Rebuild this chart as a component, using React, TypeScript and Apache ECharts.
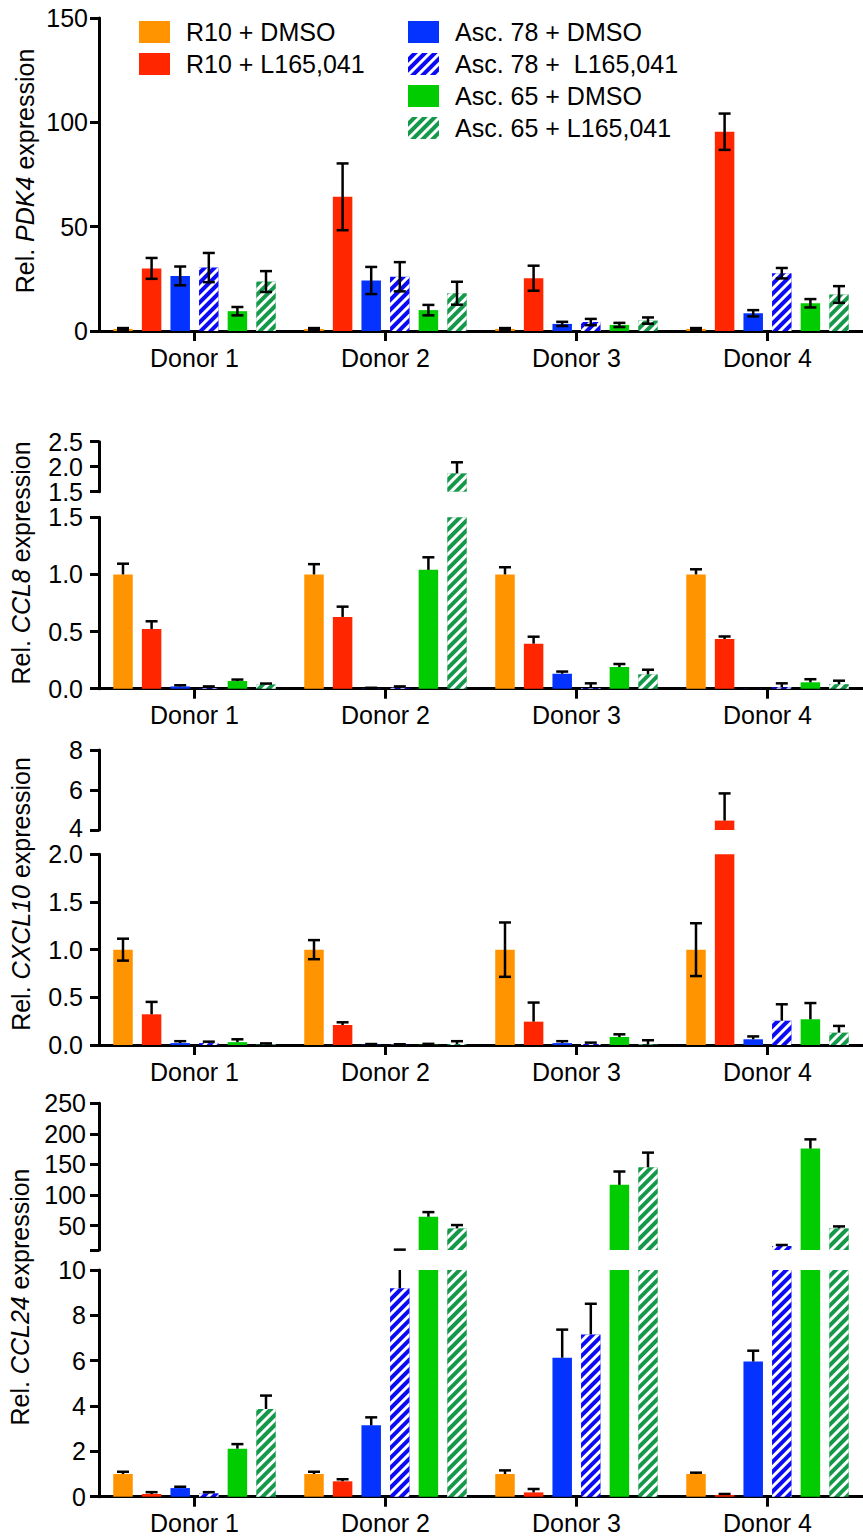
import React, { useEffect, useRef } from 'react';
import * as echarts from 'echarts';

// ---------- data ----------
const donors = ['Donor 1', 'Donor 2', 'Donor 3', 'Donor 4'];
const groupNames = [
  'R10 + DMSO',
  'R10 + L165,041',
  'Asc. 78 + DMSO',
  'Asc. 78 +  L165,041',
  'Asc. 65 + DMSO',
  'Asc. 65 + L165,041',
];
const groupColors = ['#FF9300', '#FF2600', '#0433FF', '#0A0AF5', '#00CC00', '#14994A'];
const groupHatched = [false, false, false, true, false, true];

// PDK4 (mean per group, per donor) and SEM
const pdk4Mean = [
  [1, 1, 1, 1],
  [30, 64.3, 25.3, 95.5],
  [26.4, 24.2, 3.4, 8.5],
  [30.4, 26, 4.3, 27.7],
  [9.5, 10, 2.9, 13.3],
  [23.7, 18.1, 5, 17.5],
];
const pdk4Err = [
  [0.4, 0.4, 0.4, 0.4],
  [5, 16, 6, 8.7],
  [4.5, 6.5, 1, 1.5],
  [7, 7, 1.5, 2.5],
  [2, 2.5, 1, 2],
  [5, 5.5, 1.5, 4],
];

// CCL8
const ccl8Mean = [
  [1, 1, 1, 1],
  [0.523, 0.628, 0.394, 0.435],
  [0.02, 0.003, 0.131, 0.002],
  [0.005, 0.008, 0.005, 0.012],
  [0.067, 1.04, 0.19, 0.056],
  [0.038, 1.868, 0.126, 0.04],
];
const ccl8Err = [
  [0.094, 0.09, 0.063, 0.045],
  [0.067, 0.09, 0.061, 0.022],
  [0.01, 0.005, 0.019, 0.001],
  [0.015, 0.012, 0.042, 0.035],
  [0.013, 0.11, 0.026, 0.027],
  [0.007, 0.22, 0.04, 0.03],
];

// CXCL10
const cxcl10Mean = [
  [1, 1, 1, 1],
  [0.322, 0.21, 0.245, 4.47],
  [0.02, 0.005, 0.02, 0.06],
  [0.02, 0.003, 0.01, 0.255],
  [0.03, 0.004, 0.084, 0.27],
  [0.005, 0.01, 0.005, 0.13],
];
const cxcl10Err = [
  [0.115, 0.1, 0.285, 0.277],
  [0.13, 0.028, 0.2, 1.36],
  [0.02, 0.005, 0.02, 0.03],
  [0.015, 0.005, 0.015, 0.172],
  [0.03, 0.008, 0.028, 0.17],
  [0.012, 0.03, 0.045, 0.07],
];

// CCL24
const ccl24Mean = [
  [1, 1, 1, 1],
  [0.12, 0.68, 0.19, 0.08],
  [0.38, 3.15, 6.13, 5.96],
  [0.15, 9.2, 7.16, 16.5],
  [2.12, 64.4, 116.6, 176],
  [3.87, 45.4, 145.3, 45.4],
];
const ccl24Err = [
  [0.1, 0.1, 0.16, 0.06],
  [0.08, 0.09, 0.15, 0.04],
  [0.06, 0.35, 1.24, 0.48],
  [0.05, 1.4, 1.35, 1.7],
  [0.2, 7.6, 21.8, 15],
  [0.59, 5.4, 24, 3.2],
];

const pdk4Ticks = [0, 50, 100, 150];
const ccl24UpperLabels = [50, 100, 150, 200, 250];
const ccl24UpperTicks = [10, 50, 100, 150, 200, 250];

// ---------- layout ----------
const FONT = '"Liberation Sans", Arial, Helvetica, sans-serif';
const FS = 25;
const BW = 19.5;
const GAP = 9.1;
const STEP = BW + GAP;
const CAP = 12;
const LEFT = 99;
const WIDTH = 764;

type Seg = {
  top: number;
  height: number;
  min: number;
  max: number;
  interval?: number;
  dec: number;
  base: boolean;
  margin: number;
  lift?: number;
  labels?: number[];
  ticks?: number[];
};

type Panel = {
  gene: string;
  nameX: number;
  nameY: number;
  mean: number[][];
  err: number[][];
  both: boolean[];
  segs: Seg[];
};

const panels: Panel[] = [
  {
    gene: 'PDK4',
    nameX: 25,
    nameY: 171,
    mean: pdk4Mean,
    err: pdk4Err,
    both: [true, true, true, true, true, true],
    segs: [{ top: 18, height: 313, min: pdk4Ticks[0], max: pdk4Ticks[3], interval: 50, dec: 0, base: true, margin: 11 }],
  },
  {
    gene: 'CCL8',
    nameX: 21,
    nameY: 563,
    mean: ccl8Mean,
    err: ccl8Err,
    both: [false, false, false, false, false, false],
    segs: [
      { top: 441.7, height: 50, min: 1.5, max: 2.5, interval: 0.5, dec: 1, base: false, margin: 16 },
      { top: 517.3, height: 171.4, min: 0, max: 1.5, interval: 0.5, dec: 1, base: true, margin: 16 },
    ],
  },
  {
    gene: 'CXCL10',
    nameX: 21,
    nameY: 894,
    mean: cxcl10Mean,
    err: cxcl10Err,
    both: [true, false, false, false, false, false],
    segs: [
      { top: 750, height: 80, min: 4, max: 8, interval: 2, dec: 0, base: false, margin: 16, lift: 4 },
      { top: 854.3, height: 190.7, min: 0, max: 2, interval: 0.5, dec: 1, base: true, margin: 16 },
    ],
  },
  {
    gene: 'CCL24',
    nameX: 20,
    nameY: 1297,
    mean: ccl24Mean,
    err: ccl24Err,
    both: [false, false, false, false, false, false],
    segs: [
      { top: 1103.3, height: 146.7, min: 10, max: 250, dec: 0, base: false, margin: 13, labels: ccl24UpperLabels, ticks: ccl24UpperTicks },
      { top: 1270, height: 226.7, min: 0, max: 10, interval: 2, dec: 0, base: true, margin: 13 },
    ],
  },
];

function decalFor(i: number) {
  if (!groupHatched[i]) return undefined;
  return {
    symbol: 'rect',
    symbolSize: 1,
    dashArrayX: [1, 0],
    dashArrayY: [2.8, 3.6],
    rotation: -Math.PI / 4,
    color: '#ffffff',
  };
}

function buildOption() {
  const grid: any[] = [];
  const xAxis: any[] = [];
  const yAxis: any[] = [];
  const series: any[] = [];
  const graphic: any[] = [];

  panels.forEach((p) => {
    p.segs.forEach((seg) => {
      const gi = grid.length;
      grid.push({ left: LEFT, width: WIDTH, top: seg.top, height: seg.height, containLabel: false });
      xAxis.push({
        type: 'category',
        gridIndex: gi,
        data: donors,
        show: seg.base,
        axisLine: { show: true, lineStyle: { color: '#000', width: 3 } },
        axisTick: { show: true, alignWithLabel: true, length: 10, lineStyle: { color: '#000', width: 3 } },
        axisLabel: { color: '#000', fontSize: FS, fontFamily: FONT, margin: 14 },
      });
      const lift = seg.lift || 0;
      const yLabel: any = {
        color: '#000',
        fontSize: FS,
        fontFamily: FONT,
        lineHeight: 19,
        margin: seg.margin,
        showMinLabel: true,
        showMaxLabel: true,
        hideOverlap: false,
        formatter: (v: number) => {
          const t = v.toFixed(seg.dec);
          return lift && v === seg.min ? '{u|' + t + '}' : t;
        },
        rich: {
          u: { fontSize: FS, fontFamily: FONT, color: '#000', lineHeight: 19, padding: [0, 0, lift, 0] },
        },
      };
      const yTick: any = { show: true, length: 9, lineStyle: { color: '#000', width: 3 } };
      if (seg.labels) yLabel.customValues = seg.labels;
      if (seg.ticks) yTick.customValues = seg.ticks;
      const y: any = {
        type: 'value',
        gridIndex: gi,
        min: seg.min,
        max: seg.max,
        axisLine: { show: true, lineStyle: { color: '#000', width: 3 } },
        axisTick: yTick,
        axisLabel: yLabel,
        splitLine: { show: false },
      };
      if (seg.interval) y.interval = seg.interval;
      yAxis.push(y);

      for (let s = 0; s < 6; s++) {
        series.push({
          type: 'bar',
          name: groupNames[s],
          xAxisIndex: gi,
          yAxisIndex: gi,
          data: p.mean[s],
          barWidth: BW,
          barGap: (GAP / BW) * 100 + '%',
          clip: true,
          silent: true,
          itemStyle: { color: groupColors[s], decal: decalFor(s) },
          z: 2,
        });
      }
      for (let s = 0; s < 6; s++) {
        const both = p.both[s];
        const lo = seg.min;
        const hi = seg.max;
        series.push({
          type: 'custom',
          xAxisIndex: gi,
          yAxisIndex: gi,
          clip: false,
          silent: true,
          z: 5,
          data: p.mean[s].map((v, k) => [k, v, p.err[s][k], both ? p.err[s][k] : 0]),
          renderItem: (params: any, api: any) => {
            const k = api.value(0);
            const v = api.value(1);
            const up = api.value(2);
            const dn = api.value(3);
            const vTop = v + up;
            const vBot = v - dn;
            const st = { stroke: '#000', lineWidth: 2.5 };
            const children: any[] = [];
            const sTop = Math.min(vTop, hi);
            const sBot = Math.max(vBot, lo);
            if (sTop <= sBot) return { type: 'group', children };
            const pTop = api.coord([k, sTop]);
            const pBot = api.coord([k, sBot]);
            const x = pTop[0] + (s - 2.5) * STEP;
            children.push({ type: 'line', shape: { x1: x, y1: pTop[1], x2: x, y2: pBot[1] }, style: st });
            if (vTop <= hi && vTop >= lo) {
              children.push({ type: 'line', shape: { x1: x - CAP / 2, y1: pTop[1], x2: x + CAP / 2, y2: pTop[1] }, style: st });
            }
            if (dn > 0 && vBot >= lo && vBot <= hi) {
              children.push({ type: 'line', shape: { x1: x - CAP / 2, y1: pBot[1], x2: x + CAP / 2, y2: pBot[1] }, style: st });
            }
            return { type: 'group', children };
          },
        });
      }
    });

    graphic.push({
      type: 'text',
      x: p.nameX,
      y: p.nameY,
      rotation: Math.PI / 2,
      style: {
        text: '{n|Rel. }{i|' + p.gene + '}{n| expression}',
        align: 'center',
        verticalAlign: 'middle',
        fill: '#000',
        rich: {
          n: { fontSize: FS, fontFamily: FONT, fill: '#000' },
          i: { fontSize: FS, fontFamily: FONT, fontStyle: 'italic', fill: '#000' },
        },
      },
    });
  });

  const legendBase = {
    orient: 'vertical',
    top: 19.5,
    itemWidth: 31,
    itemHeight: 22,
    itemGap: 7,
    icon: 'rect',
    selectedMode: false,
    padding: 0,
    textStyle: { fontSize: FS, fontFamily: FONT, color: '#000', padding: [0, 0, 0, 11] },
  };

  return {
    animation: false,
    backgroundColor: '#ffffff',
    legend: [
      { ...legendBase, left: 139, data: groupNames.slice(0, 2) },
      { ...legendBase, left: 408, data: groupNames.slice(2) },
    ],
    grid,
    xAxis,
    yAxis,
    series,
    graphic,
  };
}

export default function App() {
  const ref = useRef<HTMLDivElement>(null);
  useEffect(() => {
    if (!ref.current) return;
    const chart = echarts.init(ref.current, undefined, { renderer: 'svg' });
    chart.setOption(buildOption() as any);
    return () => chart.dispose();
  }, []);
  return (
    <div
      ref={ref}
      style={{ position: 'absolute', left: 0, top: 0, width: 863, height: 1536, background: '#fff' }}
    />
  );
}
